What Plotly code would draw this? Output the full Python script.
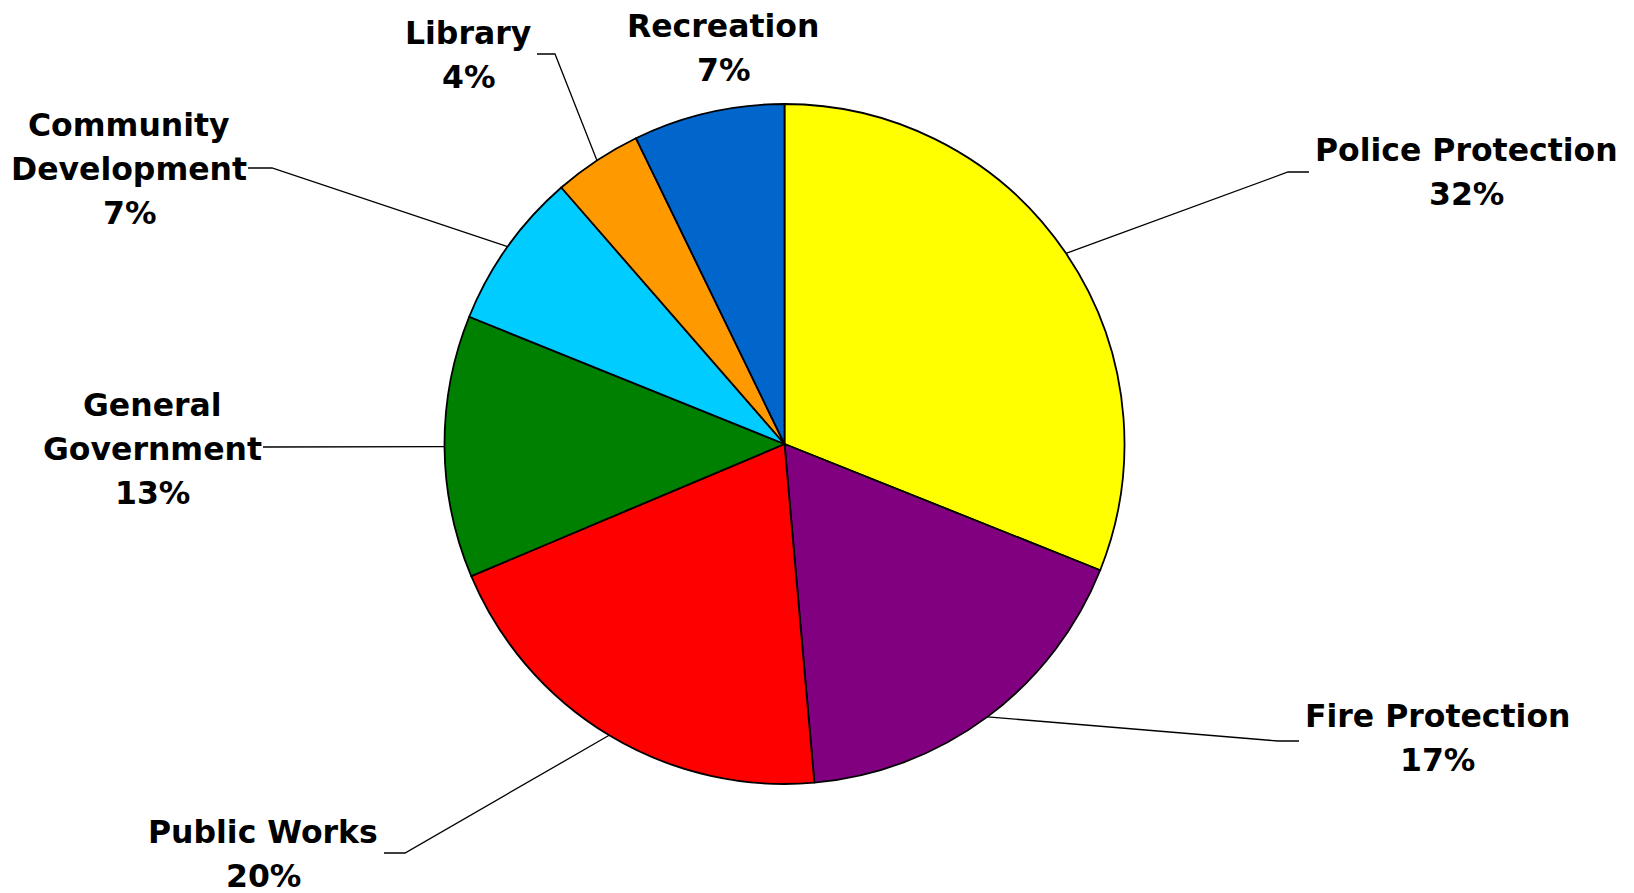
import math
import plotly.graph_objects as go

# ---- data ----
categories = ["Police Protection", "Fire Protection", "Public Works", "General Government",
              "Community Development", "Library", "Recreation"]
shares = [31.06, 17.55, 20.05, 12.46, 7.50, 4.20, 7.20]   # slice sizes
pct_labels = ["32%", "17%", "20%", "13%", "7%", "4%", "7%"]  # percentages printed on the chart
label_lines = [["Police Protection"], ["Fire Protection"], ["Public Works"],
               ["General", "Government"], ["Community", "Development"], ["Library"], ["Recreation"]]
colors = ["#FFFF00", "#800080", "#FF0000", "#008000", "#00CCFF", "#FF9900", "#0066CC"]

# ---- layout constants (pixels) ----
W, H = 1634, 893
CX, CY, R = 784.5, 444.0, 340.0
FONT = dict(family="DejaVu Sans", size=31.5, color="black")
LINE_GAP = 44
# label block: (center x, y of first line center), leader elbow and end (None = no leader)
label_pos = {
    "Police Protection": dict(x=1466, y=150, elbow=(1288, 172), end=(1309, 172)),
    "Fire Protection": dict(x=1437, y=716, elbow=(1278, 741), end=(1299, 741)),
    "Public Works": dict(x=263, y=832, elbow=(405, 853), end=(384, 853)),
    "General Government": dict(x=152, y=405, elbow=(266, 447), end=(263, 447)),
    "Community Development": dict(x=129, y=125, elbow=(272, 168), end=(248, 168)),
    "Library": dict(x=468, y=33, elbow=(555, 54), end=(537, 54)),
    "Recreation": dict(x=723, y=26, elbow=None, end=None),
}


def px(x):
    return x / W


def py(y):
    return 1 - y / H


fig = go.Figure(go.Pie(
    labels=categories, values=shares, sort=False, direction="clockwise", rotation=0,
    marker=dict(colors=colors, line=dict(color="black", width=1.8)),
    textinfo="none", hoverinfo="label+percent", showlegend=False,
    domain=dict(x=[px(CX - R), px(CX + R)], y=[py(CY + R), py(CY - R)]),
))

total = sum(shares)
cum = 0.0
annotations, shapes = [], []
for cat, v, pct, lines in zip(categories, shares, pct_labels, label_lines):
    mid = (cum + v / 2) / total * 2 * math.pi
    cum += v
    pos = label_pos[cat]
    all_lines = lines + [pct]
    for i, t in enumerate(all_lines):
        annotations.append(dict(
            x=px(pos["x"]), y=py(pos["y"] + i * LINE_GAP), xref="paper", yref="paper",
            text="<b>" + t + "</b>", showarrow=False, xanchor="center", yanchor="middle",
            font=FONT,
        ))
    if pos["elbow"] is not None:
        ex = CX + R * math.sin(mid)
        ey = CY - R * math.cos(mid)
        (bx, by), (tx, ty) = pos["elbow"], pos["end"]
        shapes.append(dict(
            type="path", xref="paper", yref="paper",
            path=f"M {px(ex)},{py(ey)} L {px(bx)},{py(by)} L {px(tx)},{py(ty)}",
            line=dict(color="black", width=1.3),
        ))

fig.update_layout(
    width=W, height=H, margin=dict(l=0, r=0, t=0, b=0),
    paper_bgcolor="white", plot_bgcolor="white",
    annotations=annotations, shapes=shapes,
)
fig.write_html("out.html", config={"displayModeBar": False},
               post_script="document.body.style.margin='0';document.body.style.overflow='hidden';")
